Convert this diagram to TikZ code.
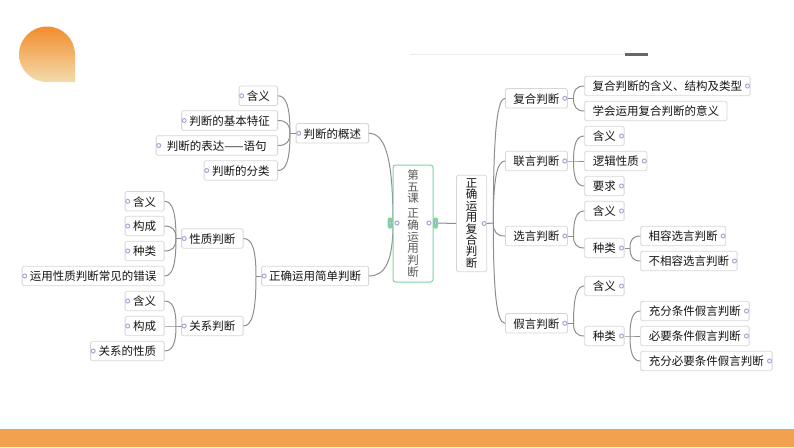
\documentclass[tikz,border=0pt]{standalone}
\usepackage{fontspec}
\setmainfont{Noto Sans CJK SC}
\usetikzlibrary{calc}
\definecolor{conn}{HTML}{8E8E8E}
\definecolor{edge}{HTML}{D6D6D6}
\definecolor{mint}{HTML}{7CD6A0}
\definecolor{mark}{HTML}{A4A8D6}
\definecolor{band}{HTML}{F2A24E}
\definecolor{ink}{HTML}{141414}
\definecolor{droptop}{HTML}{F28C2C}
\definecolor{dropbot}{HTML}{F3DCAC}
\tikzset{
  tb/.style={draw=edge,line width=.8pt,fill=white,rounded corners=1.5pt,inner sep=0pt,minimum height=19.5pt,text=ink,font=\fontsize{11.5}{11.5}\selectfont},
  tx/.style={text height=11.5pt,text depth=1.6pt},
  mk/.style={circle,draw=mark,fill=white,line width=1pt,inner sep=0pt,minimum size=4pt},
  conn/.style={draw=conn,line width=1pt},
  pill/.style={rounded corners=1.5pt,fill=mint,draw=none,minimum width=5pt,minimum height=11pt,inner sep=0pt},
  vert/.style={align=center,inner sep=0pt,rounded corners=2.5pt,fill=white}
}
\newcommand\nd[6]{\node[tb,tx,anchor=#2,minimum width=#5] (#1) at (#3,#4) {#6};}
\newcommand\bra[2]{%
  \coordinate (cpa) at ($(#1)!.7!(#2)$);%
  \coordinate (cpb) at ($(#1)!.3!(#2)$);%
  \draw[conn] (#1) .. controls (cpa |- #1) and (cpb -| #2) .. (#2);}
\begin{document}
\begin{tikzpicture}[x=1pt,y=-1pt]
\useasboundingbox (0,0) rectangle (794,447);
% decoration
\shade[top color=droptop,bottom color=dropbot,draw=none]
  (75,82) -- (47,82) .. controls (31.5,82) and (19,69.5) .. (19,54.5)
  .. controls (19,39) and (31.5,26.5) .. (47,26.5)
  .. controls (62.5,26.5) and (75,39) .. (75,54.5) -- cycle;
\draw[draw=black!8,line width=.7pt] (410,54) -- (625,54);
\fill[black!60] (625,53) rectangle (648,55.5);
\shade[top color=white,bottom color=blue!3!cyan!3!white,draw=none] (0,412) rectangle (794,428.5);
\fill[band] (0,428.5) rectangle (794,447);
% trunk points
\coordinate (t1) at (290,133.3);
\coordinate (t2) at (176,238.5);
\coordinate (t3) at (176,326);
\coordinate (t4) at (256,276);
\coordinate (t5) at (393,223);
\coordinate (t6) at (493.3,223);
\coordinate (t7) at (573.5,98.3);
\coordinate (t8) at (573.5,161);
\coordinate (t9) at (573.5,236);
\coordinate (t10) at (573.5,323.3);
\coordinate (t11) at (630,248);
\coordinate (t12) at (630,336);
% left nodes
\nd{a1}{east}{278}{95.8}{38.5}{含义}
\nd{a2}{east}{278}{120.5}{96}{判断的基本特征}
\nd{a3}{east}{278}{145.5}{121.5}{判断的表达——语句}
\nd{a4}{east}{278}{170.5}{73.5}{判断的分类}
\nd{A}{east}{369}{133.3}{72.5}{判断的概述}
\nd{b1}{east}{164.5}{201.3}{39}{含义}
\nd{b2}{east}{164.5}{226}{39}{构成}
\nd{b3}{east}{164.5}{251}{39}{种类}
\nd{b4}{east}{164.5}{276}{142}{运用性质判断常见的错误}
\nd{c1}{east}{164.5}{301}{39}{含义}
\nd{c2}{east}{164.5}{326}{39}{构成}
\nd{c3}{east}{164.5}{351}{73.5}{关系的性质}
\nd{B}{east}{243.5}{238.5}{61.5}{性质判断}
\nd{C}{east}{243.5}{326}{61.5}{关系判断}
\nd{D}{east}{369}{276}{107}{正确运用简单判断}
% right nodes
\nd{R1}{west}{505}{98.3}{62}{复合判断}
\nd{R2}{west}{505}{161}{62}{联言判断}
\nd{R3}{west}{505}{236}{62}{选言判断}
\nd{R4}{west}{505}{323.3}{62}{假言判断}
\nd{d1}{west}{584.3}{86}{165.4}{复合判断的含义、结构及类型}
\nd{d2}{west}{584.3}{111}{142.2}{学会运用复合判断的意义}
\nd{e1}{west}{584.3}{136}{39.4}{含义}
\nd{e2}{west}{584.3}{161}{62.2}{逻辑性质}
\nd{e3}{west}{584.3}{186}{39.4}{要求}
\nd{f1}{west}{584.3}{211}{39.4}{含义}
\nd{f2}{west}{584.3}{248}{39.4}{种类}
\nd{g1}{west}{640.3}{236}{85}{相容选言判断}
\nd{g2}{west}{640.3}{261}{96.4}{不相容选言判断}
\nd{h1}{west}{584.3}{286}{39.4}{含义}
\nd{h2}{west}{584.3}{336}{39.4}{种类}
\nd{i1}{west}{640.3}{311}{108.4}{充分条件假言判断}
\nd{i2}{west}{640.3}{336}{108.4}{必要条件假言判断}
\nd{i3}{west}{640.3}{361}{131.4}{充分必要条件假言判断}
% central nodes
\node[vert,tb,minimum width=30.2pt,minimum height=96.4pt,font=\fontsize{11.5}{11.4}\selectfont] (E) at (471.6,223.5)
  {正\\确\\运\\用\\复\\合\\判\\断};
% connectors
\foreach \c in {a1,a2,a3,a4}{\bra{\c.east}{t1}}
\draw[conn] (t1) -- (A.west);
\foreach \c in {b1,b2,b3,b4}{\bra{\c.east}{t2}}
\draw[conn] (t2) -- (B.west);
\foreach \c in {c1,c3}{\bra{\c.east}{t3}}
\draw[conn] (c2.east) -- (t3) -- (C.west);
\foreach \c in {B,C}{\bra{\c.east}{t4}}
\draw[conn] (t4) -- (D.west);
\foreach \c in {A,D}{\bra{\c.east}{t5}}
\foreach \c in {R1,R2,R3,R4}{\bra{\c.west}{t6}}
\draw[conn] (t6) -- (E.east);
\foreach \c in {d1,d2}{\bra{\c.west}{t7}}
\draw[conn] (t7) -- (R1.east);
\foreach \c in {e1,e3}{\bra{\c.west}{t8}}
\draw[conn] (R2.east) -- (t8) -- (e2.west);
\foreach \c in {f1,f2}{\bra{\c.west}{t9}}
\draw[conn] (t9) -- (R3.east);
\foreach \c in {h1,h2}{\bra{\c.west}{t10}}
\draw[conn] (t10) -- (R4.east);
\foreach \c in {g1,g2}{\bra{\c.west}{t11}}
\draw[conn] (t11) -- (f2.east);
\foreach \c in {i1,i3}{\bra{\c.west}{t12}}
\draw[conn] (h2.east) -- (t12) -- (i2.west);
% root
\node[draw=mint,line width=1pt,vert,minimum width=40pt,minimum height=117pt,text=black!65,font=\fontsize{11.5}{11.7}\selectfont] (Z) at (413,223.5)
  {第\\五\\课\\[3pt]正\\确\\运\\用\\判\\断};
\node[pill] (pl) at (390,223) {};
\node[pill] (pr) at (435.5,223) {};
\draw[conn] (pr.east) -- (E.west);
% markers
\foreach \n in {a1,a2,a3,a4,A,b1,b2,b3,b4,c1,c2,c3,B,C,D}{\node[mk] (m\n) at ([xshift=3pt]\n.west) {};}
\foreach \n in {R1,R2,R3,R4,d1,e1,e2,e3,f1,f2,g1,g2,h1,h2,i1,i2,i3,E}{\node[mk] (m\n) at ([xshift=-3pt]\n.east) {};}
\node[mk,minimum size=3pt] (mpl) at (390,223) {};
\node[mk,minimum size=3pt] (mpr) at (435.5,223) {};
\node[mk] (mzl) at (397,223) {};
\node[mk] (mzr) at (429,223) {};
\end{tikzpicture}
\end{document}
